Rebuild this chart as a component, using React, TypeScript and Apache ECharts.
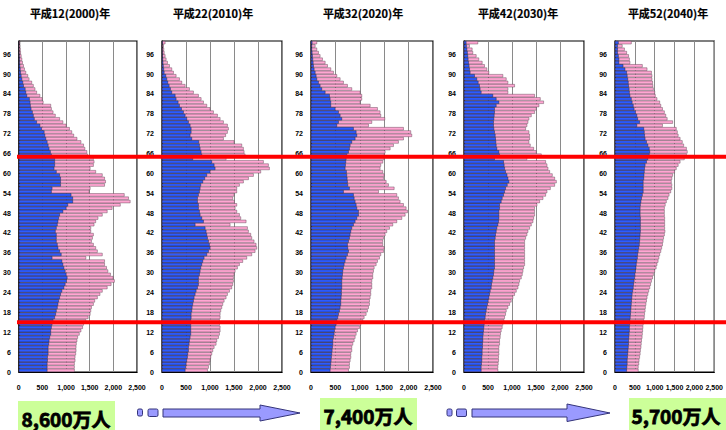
import React, { useEffect, useRef } from "react";
import * as echarts from "echarts";

// Age categories 0..99 (one bar per single year of age)
const AGES: string[] = Array.from({ length: 100 }, (_, i) => String(i));
const AGE_TICKS = [0, 6, 12, 18, 24, 30, 36, 42, 48, 54, 60, 66, 72, 78, 84, 90, 96];

const YEAR_TITLES = ["平成12(2000)年", "平成22(2010)年", "平成32(2020)年", "平成42(2030)年", "平成52(2040)年"];
const TOTAL_LABELS = ["8,600万人", "7,400万人", "5,700万人"];

// Population by single year of age (thousands). male = blue part, total = full bar length.
const male2000 = [
  604, 604, 604, 611, 611, 625, 625, 625, 638, 645,
  659, 680, 680, 694, 708, 729, 763, 784, 798, 819,
  833, 847, 868, 888, 916, 958, 985, 1013, 1027, 1006,
  985, 958, 937, 916, 708, 902, 868, 833, 819, 798,
  798, 798, 777, 798, 819, 833, 847, 868, 937, 1006,
  1041, 1145, 1145, 1110, 694, 708, 888, 888, 888, 868,
  798, 750, 763, 763, 763, 694, 673, 645, 625, 604,
  576, 555, 541, 486, 451, 382, 333, 312, 292, 264,
  250, 243, 229, 174, 153, 139, 104, 90, 69, 55,
  42, 35, 28, 21, 18, 14, 10, 7, 5, 4,
];
const total2000 = [
  1180, 1180, 1180, 1194, 1194, 1208, 1215, 1215, 1221, 1235,
  1249, 1284, 1319, 1353, 1374, 1423, 1471, 1513, 1527, 1541,
  1582, 1610, 1666, 1721, 1770, 1874, 1957, 2026, 1999, 1943,
  1888, 1860, 1818, 1818, 1423, 1770, 1666, 1631, 1582, 1541,
  1562, 1582, 1527, 1527, 1596, 1631, 1679, 1770, 1874, 1978,
  2151, 2360, 2325, 2235, 1492, 1513, 1818, 1839, 1818, 1770,
  1631, 1513, 1582, 1596, 1582, 1457, 1444, 1402, 1374, 1319,
  1235, 1166, 1125, 1076, 1006, 937, 868, 777, 729, 694,
  680, 520, 500, 451, 382, 347, 312, 278, 222, 194,
  153, 125, 104, 83, 69, 55, 42, 35, 30, 25,
];

const male2010 = [
  486, 500, 507, 520, 534, 541, 555, 555, 569, 576,
  590, 604, 604, 604, 604, 604, 611, 611, 625, 632,
  645, 659, 673, 694, 715, 743, 763, 763, 763, 784,
  798, 812, 833, 854, 881, 937, 972, 1006, 992, 972,
  951, 937, 923, 902, 694, 868, 833, 798, 784, 763,
  763, 743, 743, 763, 784, 798, 812, 854, 895, 937,
  1006, 1110, 1090, 1041, 645, 833, 819, 798, 784, 770,
  624, 590, 611, 611, 590, 555, 520, 486, 451, 410,
  368, 340, 298, 278, 208, 180, 153, 125, 104, 83,
  49, 40, 32, 25, 20, 15, 12, 10, 8, 14,
];
const total2010 = [
  951, 972, 992, 1006, 1020, 1041, 1062, 1090, 1131, 1145,
  1180, 1201, 1215, 1215, 1201, 1201, 1215, 1215, 1228, 1249,
  1270, 1298, 1339, 1367, 1409, 1457, 1478, 1492, 1492, 1506,
  1527, 1575, 1617, 1686, 1770, 1874, 1943, 1978, 1964, 1922,
  1874, 1853, 1804, 1784, 1423, 1756, 1645, 1617, 1562, 1527,
  1562, 1513, 1478, 1506, 1562, 1562, 1617, 1700, 1805, 1909,
  2061, 2242, 2221, 2117, 1340, 1735, 1714, 1700, 1666, 1506,
  1284, 1330, 1367, 1388, 1367, 1284, 1215, 1159, 1076, 1006,
  937, 868, 819, 763, 659, 576, 486, 416, 368, 298,
  243, 208, 160, 118, 90, 69, 50, 42, 35, 69,
];

const male2020 = [
  396, 403, 410, 417, 423, 430, 437, 444, 451, 451,
  464, 478, 485, 499, 519, 533, 553, 567, 587, 601,
  615, 615, 622, 628, 628, 635, 635, 635, 642, 649,
  656, 669, 683, 703, 724, 751, 772, 758, 751, 772,
  792, 806, 820, 840, 874, 908, 943, 977, 977, 943,
  929, 908, 888, 874, 669, 792, 758, 751, 744, 737,
  730, 703, 710, 717, 724, 738, 772, 792, 806, 840,
  908, 943, 929, 874, 533, 567, 635, 601, 567, 499,
  410, 410, 396, 383, 294, 225, 191, 157, 123, 109,
  89, 68, 55, 48, 41, 34, 27, 20, 20, 27,
];
const total2020 = [
  772, 792, 792, 806, 820, 820, 840, 840, 861, 888,
  908, 929, 956, 997, 1025, 1065, 1093, 1134, 1161, 1182,
  1202, 1202, 1216, 1229, 1229, 1250, 1250, 1250, 1270, 1270,
  1284, 1298, 1339, 1366, 1407, 1434, 1489, 1503, 1475, 1475,
  1489, 1523, 1557, 1612, 1680, 1762, 1865, 1933, 1981, 1953,
  1899, 1830, 1796, 1762, 1387, 1708, 1591, 1544, 1489, 1503,
  1475, 1420, 1434, 1475, 1503, 1503, 1523, 1626, 1694, 1796,
  1899, 2069, 2049, 1899, 1182, 1250, 1516, 1434, 1420, 1366,
  1216, 1011, 1045, 1045, 1011, 840, 751, 669, 601, 533,
  464, 410, 342, 294, 239, 191, 157, 123, 89, 123,
];

const male2030 = [
  362, 362, 369, 376, 376, 383, 383, 390, 390, 397,
  397, 404, 411, 418, 425, 431, 445, 452, 466, 480,
  494, 508, 522, 536, 550, 571, 578, 592, 605, 619,
  626, 640, 640, 640, 640, 640, 640, 640, 640, 640,
  654, 661, 675, 689, 710, 724, 731, 731, 731, 745,
  745, 779, 800, 828, 849, 870, 905, 940, 920, 900,
  870, 850, 840, 828, 640, 745, 731, 689, 675, 668,
  661, 654, 640, 626, 619, 619, 626, 633, 640, 640,
  675, 731, 675, 605, 362, 340, 327, 300, 270, 223,
  132, 120, 110, 100, 90, 83, 75, 65, 55, 49,
];
const total2030 = [
  710, 710, 717, 724, 724, 731, 731, 731, 745, 745,
  758, 765, 779, 800, 814, 835, 849, 870, 884, 919,
  954, 988, 1023, 1058, 1093, 1128, 1148, 1162, 1197, 1218,
  1232, 1246, 1267, 1267, 1267, 1267, 1267, 1267, 1267, 1267,
  1288, 1315, 1336, 1371, 1406, 1441, 1455, 1475, 1475, 1475,
  1524, 1580, 1650, 1705, 1733, 1803, 1893, 1928, 1893, 1844,
  1789, 1754, 1733, 1705, 1315, 1615, 1510, 1455, 1385, 1357,
  1371, 1371, 1357, 1288, 1315, 1336, 1357, 1406, 1475, 1510,
  1566, 1663, 1594, 1475, 919, 919, 1058, 919, 884, 814,
  522, 480, 431, 383, 313, 258, 188, 174, 118, 292,
];

const male2040 = [
  298, 305, 312, 312, 319, 326, 333, 340, 347, 347,
  354, 361, 368, 368, 375, 382, 389, 396, 403, 409,
  416, 423, 430, 437, 451, 465, 472, 486, 500, 507,
  521, 534, 541, 555, 569, 576, 590, 604, 618, 625,
  632, 638, 645, 645, 645, 645, 645, 638, 638, 638,
  645, 659, 673, 694, 715, 715, 715, 715, 729, 736,
  743, 750, 763, 798, 833, 868, 881, 868, 833, 798,
  763, 750, 743, 729, 555, 625, 576, 555, 521, 486,
  465, 437, 416, 382, 368, 361, 347, 340, 326, 312,
  298, 257, 208, 104, 104, 90, 69, 69, 69, 90,
];
const total2040 = [
  590, 590, 604, 611, 625, 638, 645, 659, 666, 673,
  687, 694, 701, 708, 715, 729, 743, 750, 763, 770,
  784, 798, 812, 833, 854, 881, 902, 923, 951, 972,
  1006, 1041, 1062, 1090, 1110, 1131, 1159, 1180, 1201, 1215,
  1228, 1249, 1263, 1256, 1256, 1256, 1256, 1249, 1249, 1249,
  1270, 1298, 1339, 1367, 1409, 1437, 1437, 1423, 1437, 1457,
  1506, 1548, 1596, 1645, 1750, 1804, 1825, 1804, 1735, 1700,
  1645, 1596, 1575, 1548, 1201, 1457, 1319, 1284, 1249, 1201,
  1159, 1131, 1062, 1020, 1006, 972, 958, 951, 937, 937,
  923, 812, 694, 382, 368, 347, 298, 243, 187, 416,
];

const MALE = [male2000, male2010, male2020, male2030, male2040];
const TOTAL = [total2000, total2010, total2020, total2030, total2040];

// Age thresholds marked with red rules across all pyramids
const THRESHOLD_AGES = [65, 15];

// Layout of the five panels
const PANEL_LEFT = [17, 162, 311, 464, 615];
const PANEL_WIDTH = [120, 120, 122, 120, 120];
const PANEL_TOP = 41;
const PANEL_HEIGHT = 331;
const TITLE_X = [70, 213, 363, 518, 668];

const BLUE = "#2d5cff";
const PINK = "#ffa6d2";
const AXIS_FONT = { fontSize: 7, fontWeight: "bold" as const, fontFamily: "'Liberation Sans', Arial, sans-serif", color: "#000" };

function buildOption() {
  const grid = PANEL_LEFT.map((left, k) => ({
    left,
    top: PANEL_TOP,
    width: PANEL_WIDTH[k],
    height: PANEL_HEIGHT,
    show: true,
    borderColor: "#000",
    borderWidth: 1.2,
    backgroundColor: "#fff",
  }));

  const xAxis = PANEL_LEFT.map((_, k) => ({
    gridIndex: k,
    type: "value",
    min: 0,
    max: 2500,
    interval: 500,
    axisLine: { show: true, lineStyle: { color: "#000", width: 1.2 } },
    axisTick: { show: false },
    splitLine: { show: true, lineStyle: { color: "#8a8a8a", width: 1 } },
    axisLabel: { ...AXIS_FONT, margin: 12, formatter: (v: number) => v.toLocaleString("en-US") },
  }));

  const yAxis: any[] = [];
  PANEL_LEFT.forEach((_, k) => {
    yAxis.push({ gridIndex: k, type: "category", data: AGES, show: false, boundaryGap: true });
    yAxis.push({
      gridIndex: k,
      type: "value",
      position: "left",
      min: 0,
      max: 100,
      interval: 6,
      axisLine: { show: true, lineStyle: { color: "#000", width: 1.2 } },
      axisTick: { show: false },
      splitLine: { show: false },
      axisLabel: {
        ...AXIS_FONT,
        margin: 8,
        formatter: (v: number) => (AGE_TICKS.includes(v) ? String(v) : ""),
      },
    });
  });

  const series: any[] = [];
  PANEL_LEFT.forEach((_, k) => {
    series.push({
      type: "bar",
      xAxisIndex: k,
      yAxisIndex: 2 * k,
      data: TOTAL[k],
      barCategoryGap: "6%",
      barGap: "-100%",
      itemStyle: { color: PINK, borderColor: "#4a3040", borderWidth: 0.4 },
      silent: true,
    });
    series.push({
      type: "bar",
      xAxisIndex: k,
      yAxisIndex: 2 * k,
      data: MALE[k],
      barCategoryGap: "6%",
      barGap: "-100%",
      itemStyle: { color: BLUE, borderColor: "#1a1a2a", borderWidth: 0.4 },
      silent: true,
    });
  });

  return { animation: false, backgroundColor: "#fff", grid, xAxis, yAxis, series };
}

function arrow(shaftX0: number, headX: number, tipX: number, sq1: number, sq2: number, headTop: number, headBottom: number) {
  const stroke = "#34347a";
  const fill = "#9a9aff";
  return [
    { type: "rect", shape: { x: sq1, y: 409, width: 5, height: 7, r: 1.5 }, style: { fill, stroke, lineWidth: 1 }, z: 20 },
    { type: "rect", shape: { x: sq2, y: 409, width: 10, height: 7.5, r: 1.5 }, style: { fill, stroke, lineWidth: 1 }, z: 20 },
    {
      type: "polygon",
      shape: {
        points: [
          [shaftX0, 409], [headX, 409], [headX, headTop], [tipX, 413], [headX, headBottom], [headX, 417], [shaftX0, 417],
        ],
      },
      style: { fill, stroke, lineWidth: 1 },
      z: 20,
    },
  ];
}

function buildGraphics(chart: echarts.ECharts) {
  const g: any[] = [];
  YEAR_TITLES.forEach((t, k) => {
    g.push({
      type: "text",
      x: TITLE_X[k],
      y: 13,
      style: {
        text: t,
        font: "bold 11px 'Noto Sans CJK JP', sans-serif",
        fill: "#000",
        stroke: "#000",
        lineWidth: 0.2,
        textAlign: "center",
        textVerticalAlign: "middle",
      },
      z: 20,
    });
  });

  THRESHOLD_AGES.forEach((age) => {
    const y = chart.convertToPixel({ yAxisIndex: 1 }, age) as number;
    g.push({
      type: "line",
      shape: { x1: PANEL_LEFT[0], y1: y, x2: 726, y2: y },
      style: { stroke: "#ff0000", lineWidth: 4 },
      z: 30,
    });
  });

  const boxes = [
    { x: 18, y: 401, cx: 66, cy: 418 },
    { x: 320, y: 398, cx: 368, cy: 415 },
    { x: 629, y: 398, cx: 676, cy: 415 },
  ];
  boxes.forEach((b, i) => {
    g.push({ type: "rect", shape: { x: b.x, y: b.y, width: 97, height: 40 }, style: { fill: "#ccff99" }, z: 10 });
    g.push({
      type: "text",
      x: b.cx,
      y: b.cy,
      style: {
        text: TOTAL_LABELS[i],
        font: "bold 19px 'Noto Sans CJK JP', sans-serif",
        fill: "#000",
        stroke: "#000",
        lineWidth: 0.8,
        textAlign: "center",
        textVerticalAlign: "middle",
      },
      z: 11,
    });
  });

  g.push(...arrow(163, 260, 300, 137.5, 148, 405, 421));
  g.push(...arrow(472, 567, 610, 447, 456.5, 404, 421.5));
  return g;
}

export default function App() {
  const ref = useRef<HTMLDivElement>(null);
  useEffect(() => {
    if (!ref.current) return;
    const chart = echarts.init(ref.current, undefined, { renderer: "svg" });
    chart.setOption(buildOption());
    chart.setOption({ graphic: { elements: buildGraphics(chart) } });
    return () => chart.dispose();
  }, []);
  return (
    <div
      ref={ref}
      style={{ position: "absolute", left: 0, top: 0, width: 726, height: 430, background: "#fff" }}
    />
  );
}
